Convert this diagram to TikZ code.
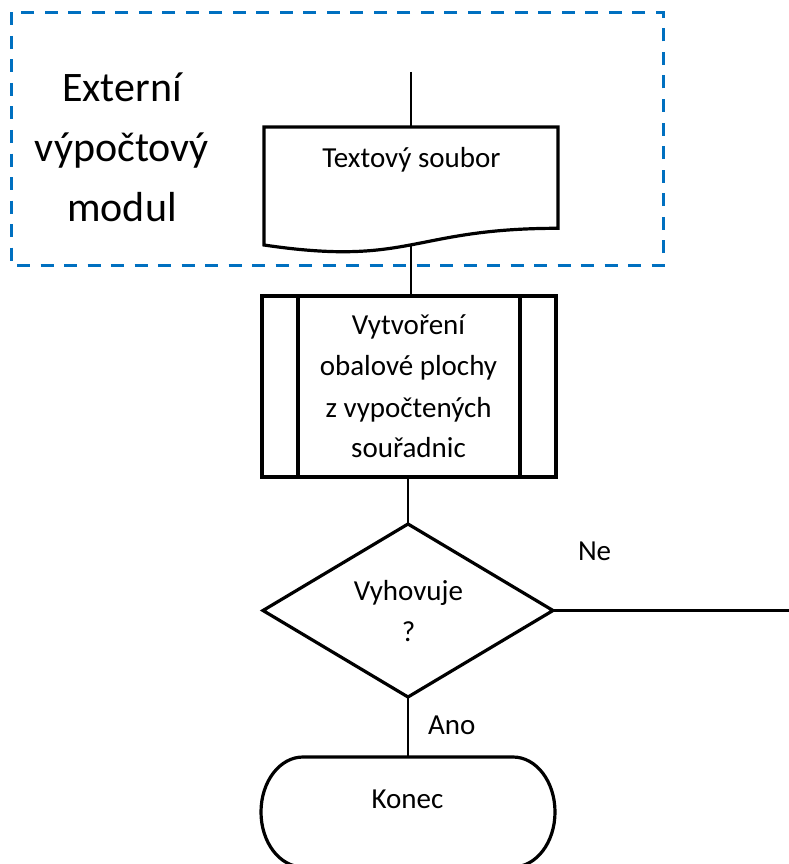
\documentclass[tikz,border=0pt]{standalone}
\usepackage{fontspec}
\setmainfont{Carlito}
\usetikzlibrary{shapes.geometric}
\definecolor{dashblue}{HTML}{0070C0}
\begin{document}
\begin{tikzpicture}[x=1pt,y=-1pt,
  shapeline/.style={draw=black, line width=3.2pt, line join=miter},
  conn/.style={draw=black, line width=2.7pt},
  dashbox/.style={draw=dashblue, line width=3pt, dash pattern=on 13pt off 10.5pt},
  txt/.style={font=\fontsize{29}{35}\selectfont, inner sep=0pt, outer sep=0pt, anchor=base},
  bigtxt/.style={font=\fontsize{42}{50}\selectfont, inner sep=0pt, outer sep=0pt, anchor=base}]
\useasboundingbox[fill=white] (0,0) rectangle (789,864);

% external module box
\draw[dashbox] (11,12.5) rectangle (663,265);
\node[bigtxt] (ext1) at (122,101.7) {Externí};
\node[bigtxt] (ext2) at (122,161.7) {výpočtový};
\node[bigtxt] (ext3) at (122,221.7) {modul};

% document shape
\coordinate (start) at (411,72);
\node[inner sep=0pt, outer sep=0pt, minimum width=294pt, minimum height=118pt, anchor=north west] (doc) at (264,127) {};
\draw[shapeline] (doc.north west) -- (doc.north east) -- (558,228.3)
  .. controls (411,228.3) and (411,266.9) .. (doc.south west) -- cycle;
\node[txt] (doctext) at (411.5,167) {Textový soubor};
\coordinate (wave) at (411,245);

% predefined process
\node[shapeline, rectangle, inner sep=0pt, outer sep=0pt, minimum width=294pt, minimum height=181pt, anchor=north west] (proc) at (262,296) {};
\draw[shapeline] ([xshift=36pt]proc.north west) -- ([xshift=36pt]proc.south west);
\draw[shapeline] ([xshift=-36pt]proc.north east) -- ([xshift=-36pt]proc.south east);
\node[txt] (pt1) at (408.5,334) {Vytvoření};
\node[txt] (pt2) at (408.5,375.5) {obalové plochy};
\node[txt] (pt3) at (408.5,417) {z vypočtených};
\node[txt] (pt4) at (408.5,457) {souřadnic};

% decision
\node[shapeline, diamond, inner sep=0pt, outer sep=0pt, minimum width=290pt, minimum height=173pt] (dec) at (408,610.5) {};
\node[txt] (dt1) at (408.5,600.5) {Vyhovuje};
\node[txt] (dt2) at (408.5,641.5) {?};
\coordinate (exit) at (789,610.5);
\node[txt, anchor=base west] (ne) at (578,560) {Ne};
\node[txt, anchor=base west] (ano) at (428,734) {Ano};

% terminator (bottom edge runs just past the picture's lower border)
\coordinate (endtop) at (408,757);
\draw[shapeline] (303,757) -- (513,757)
  .. controls (536.2,757) and (555,781.5) .. (555,812)
  .. controls (555,842.5) and (536.2,867) .. (513,867)
  -- (303,867)
  .. controls (279.8,867) and (261,842.5) .. (261,812)
  .. controls (261,781.5) and (279.8,757) .. (303,757) -- cycle;
\node[txt] (endtext) at (407.5,808) {Konec};

% connectors
\draw[conn] (start) -- (doc.north);
\draw[conn] (wave) -- (wave |- proc.north);
\draw[conn] (proc.south -| dec.north) -- (dec.north);
\draw[conn] (dec.east) -- (exit);
\draw[conn] (dec.south) -- (endtop);
\end{tikzpicture}
\end{document}
